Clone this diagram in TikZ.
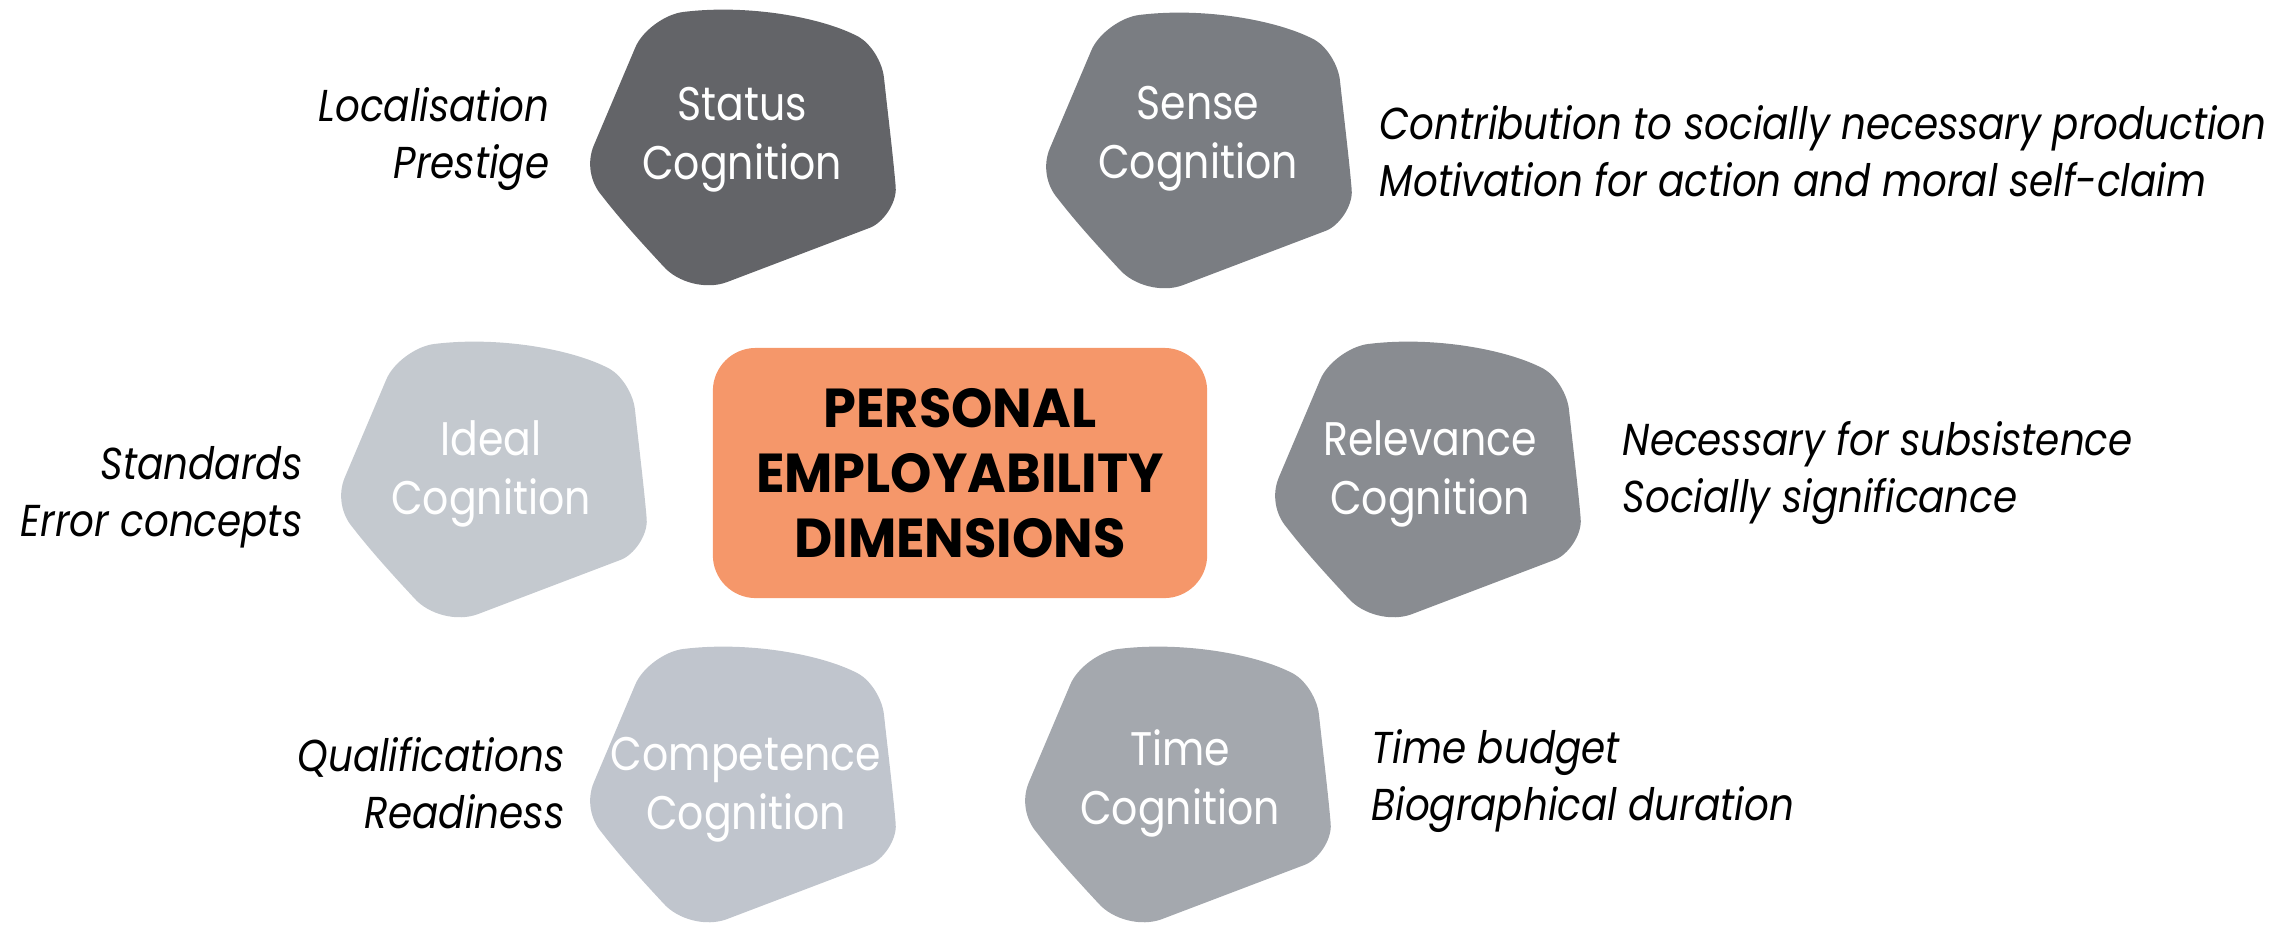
\documentclass[tikz,border=0pt]{standalone}
\usepackage{fontspec}
\setmainfont{Poppins}[FakeStretch=0.87]
\newfontfamily\titlefont{Poppins}[FakeStretch=0.96]
\definecolor{cstatus}{HTML}{636468}
\definecolor{csense}{HTML}{7A7D82}
\definecolor{crelev}{HTML}{898C91}
\definecolor{ctime}{HTML}{A4A8AE}
\definecolor{cideal}{HTML}{C4C9CF}
\definecolor{ccomp}{HTML}{C0C5CD}
\definecolor{corange}{HTML}{F5976A}
\newcommand{\drawblob}[3]{%
  \begin{scope}[shift={(#1,#2)}]
    \fill[#3] (48.4,37.2) .. controls (55.4,20.6) and (78,4.2) .. (96,2)
      .. controls (160,-6) and (235,7) .. (272,27)
      .. controls (284,34) and (295.4,52) .. (297,68)
      .. controls (301,105) and (306,145) .. (308.7,177)
      .. controls (309.9,193.5) and (295.6,212.9) .. (283,217.7)
      -- (139.9,272.1)
      .. controls (119.3,279.9) and (90.7,272.7) .. (76.2,256.1)
      .. controls (52,230) and (33,209) .. (14.8,185.6)
      .. controls (3,172) and (-0.2,152) .. (6.8,135.4)
      -- cycle;
  \end{scope}}
\begin{document}
\begin{tikzpicture}[x=0.01cm,y=-0.01cm,
  blobtext/.style={text=white, align=center, inner sep=0pt, font=\fontsize{13.4}{16.8}\selectfont},
  sideL/.style={align=right, anchor=east, inner sep=0pt, font=\fontsize{12.7}{16.2}\selectfont\itshape},
  sideR/.style={align=left, anchor=west, inner sep=0pt, font=\fontsize{12.7}{16.2}\selectfont\itshape},
  titlebox/.style={fill=corange, rounded corners=12.2pt, minimum width=4.94cm, minimum height=2.5cm,
    align=center, inner sep=0pt, font=\titlefont\fontsize{15.6}{18.5}\selectfont\bfseries}]
\useasboundingbox (0,0) rectangle (2295,929);
\drawblob{587}{10}{cstatus}
\drawblob{1043}{13}{csense}
\drawblob{338}{342}{cideal}
\drawblob{1272}{342}{crelev}
\drawblob{587}{647}{ccomp}
\drawblob{1022}{647}{ctime}
\node[titlebox] (title) at (960,473) {PERSONAL\\EMPLOYABILITY\\DIMENSIONS};
\node[blobtext] (status) at (742,140) {Status\\Cognition};
\node[blobtext] (sense) at (1198,139) {Sense\\Cognition};
\node[blobtext] (ideal) at (491,474) {Ideal\\Cognition};
\node[blobtext] (relevance) at (1430,474) {Relevance\\Cognition};
\node[blobtext] (competence) at (746,790) {Competence\\Cognition};
\node[blobtext] (time) at (1180,783) {Time\\Cognition};
\node[sideL] (statusT) at (550,139) {Localisation\\Prestige};
\node[sideR] (senseT) at (1379,151) {Contribution to socially necessary production\\Motivation for action and moral self-claim};
\node[sideL] (idealT) at (303,497) {Standards\\Error concepts};
\node[sideR] (relevanceT) at (1622,473) {Necessary for subsistence\\Socially significance};
\node[sideL] (competenceT) at (565,783) {Qualifications\\Readiness};
\node[sideR] (timeT) at (1371,781) {Time budget\\Biographical duration};
\end{tikzpicture}
\end{document}
